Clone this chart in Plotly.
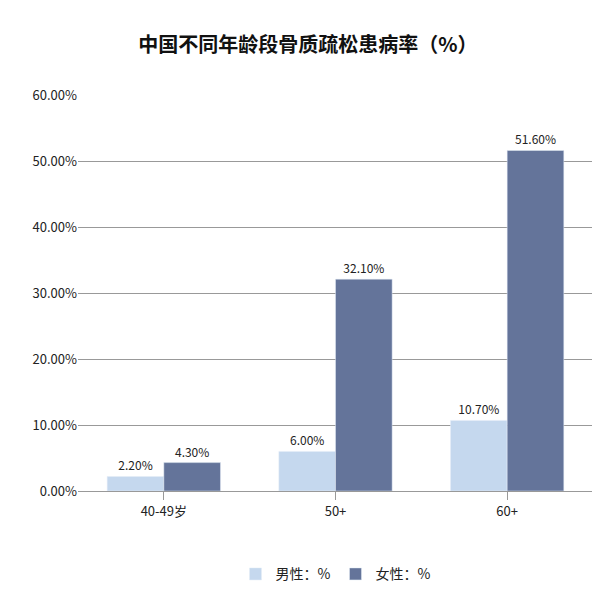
import plotly.graph_objects as go

categories = ["40-49岁", "50+", "60+"]
male = [2.2, 6.0, 10.7]
female = [4.3, 32.1, 51.6]
y_ticks = [0, 10, 20, 30, 40, 50, 60]

fig = go.Figure()
fig.add_trace(go.Bar(x=categories, y=male, name="男性：%", marker_color="#c5d8ee",
                     text=[f"{v:.2f}%" for v in male], textposition="outside",
                     textfont=dict(size=12, color="#222")))
fig.add_trace(go.Bar(x=categories, y=female, name="女性：%", marker_color="#64749a",
                     text=[f"{v:.2f}%" for v in female], textposition="outside",
                     textfont=dict(size=12, color="#222")))

fig.update_layout(
    width=600, height=596,
    title=dict(text="<b>中国不同年龄段骨质疏松患病率（%）</b>", x=0.5, y=0.95,
               font=dict(size=20, color="#111", family="Noto Sans CJK SC")),
    font=dict(family="Noto Sans CJK SC, Liberation Sans", size=13, color="#222"),
    plot_bgcolor="white", paper_bgcolor="white",
    barmode="group", bargap=0.34, bargroupgap=0,
    margin=dict(l=70, r=15, t=87, b=113),
    legend=dict(orientation="h", x=0.5, xanchor="center", y=-0.17, font=dict(size=14)),
    xaxis=dict(showline=True, linecolor="#999", ticks="outside", tickcolor="#999",
               ticklen=8, tickfont=dict(size=13)),
    yaxis=dict(range=[0, 60], tickvals=y_ticks,
               ticktext=[f"{v:.2f}%" for v in y_ticks], gridcolor="#999",
               showline=False, tickfont=dict(size=13), zeroline=False),
    uniformtext=dict(mode="show", minsize=10),
)
fig.update_traces(cliponaxis=False)
fig.write_html("out.html")
